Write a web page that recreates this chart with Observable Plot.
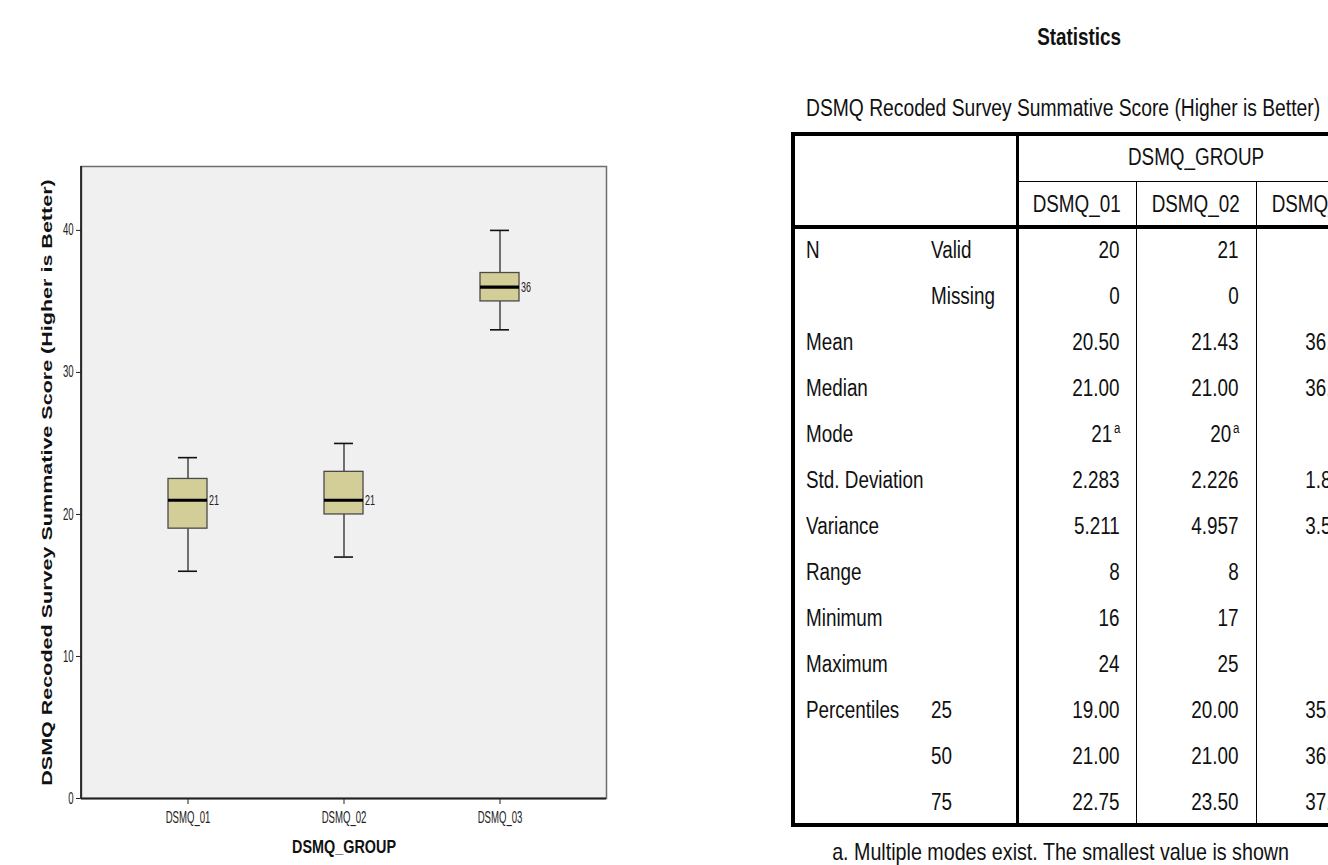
<!DOCTYPE html>
<html>
<head>
<meta charset="utf-8">
<script src="https://cdn.jsdelivr.net/npm/d3@7"></script>
<script src="https://cdn.jsdelivr.net/npm/@observablehq/plot@0.6"></script>
<style>
  html, body { margin: 0; padding: 0; background: #fff; }
  #page { position: relative; width: 1328px; height: 865px; overflow: hidden; background: #fff;
          font-family: "Liberation Sans", Arial, sans-serif; color: #111; }
  #chart svg { position: absolute; left: 0; top: 0; }
  .t { position: absolute; white-space: nowrap; font-size: 23px; height: 24px; line-height: 24px; }
  .t span { display: inline-block; transform: scaleX(0.82); }
  .ln { position: absolute; background: #000; }
  sup { font-size: 14px; vertical-align: 0; position: relative; top: -9px; margin-left: 2px; }
</style>
</head>
<body>
<div id="page">
  <div id="chart"></div>
  <div id="table"></div>
</div>
<script>
// ---------- Box plot data ----------
const groups = ["DSMQ_01", "DSMQ_02", "DSMQ_03"];
const whiskerLow = [16, 17, 33];
const lowerHinge = [19, 20, 35];
const medians = [21, 21, 36];
const upperHinge = [22.5, 23, 37];
const whiskerHigh = [24, 25, 40];
const yTickCount = 5;
const yAxisTitle = "DSMQ Recoded Survey Summative Score (Higher is Better)";
const xAxisTitle = "DSMQ_GROUP";

// ---------- Statistics table data ----------
const tableTitle = "Statistics";
const tableSubtitle = "DSMQ Recoded Survey Summative Score (Higher is Better)";
const headerGroup = "DSMQ_GROUP";
const statNames = ["N", "", "Mean", "Median", "Mode", "Std. Deviation", "Variance", "Range", "Minimum", "Maximum", "Percentiles", "", ""];
const statSub = ["Valid", "Missing", "", "", "", "", "", "", "", "", "25", "50", "75"];
const valuesDSMQ01 = ["20", "0", "20.50", "21.00", "21", "2.283", "5.211", "8", "16", "24", "19.00", "21.00", "22.75"];
const valuesDSMQ02 = ["21", "0", "21.43", "21.00", "20", "2.226", "4.957", "8", "17", "25", "20.00", "21.00", "23.50"];
const valuesDSMQ03 = ["19", "0", "36.05", "36.00", "36", "1.877", "3.524", "7", "33", "40", "35.00", "36.00", "37.00"];
const footnoteRows = [4];
const footnote = "a. Multiple modes exist. The smallest value is shown";

// ---------- Draw box plot ----------
const boxes = groups.map((g, i) => ({
  group: g, lo: whiskerLow[i], q1: lowerHinge[i], med: medians[i], q3: upperHinge[i], hi: whiskerHigh[i]
}));

const sans = "'Liberation Sans', Arial, sans-serif";

const chart = Plot.plot({
  width: 700,
  height: 865,
  marginLeft: 81,
  marginRight: 94,
  marginTop: 166,
  marginBottom: 67,
  style: { fontFamily: sans, fontSize: "12px", color: "#222", background: "transparent" },
  x: { type: "band", domain: groups, paddingInner: 0.748, paddingOuter: 0.546, label: null, tickSize: 6, tickPadding: 9 },
  y: { domain: [0, 44.5], ticks: yTickCount, label: null, tickSize: 5, tickPadding: 3 },
  marks: [
    Plot.frame({ fill: "#f0f0f0", stroke: "#6e6e6e", strokeWidth: 1.5 }),
    Plot.ruleX(boxes, { x: "group", y1: "lo", y2: "q1", stroke: "#2a2a2a", strokeWidth: 1.3 }),
    Plot.ruleX(boxes, { x: "group", y1: "q3", y2: "hi", stroke: "#2a2a2a", strokeWidth: 1.3 }),
    Plot.tickY(boxes, { x: "group", y: "lo", insetLeft: 10, insetRight: 10, stroke: "#111", strokeWidth: 1.6 }),
    Plot.tickY(boxes, { x: "group", y: "hi", insetLeft: 10, insetRight: 10, stroke: "#111", strokeWidth: 1.6 }),
    Plot.barY(boxes, { x: "group", y1: "q1", y2: "q3", fill: "#d3ce98", stroke: "#4a4a4a", strokeWidth: 1.3 }),
    Plot.tickY(boxes, { x: "group", y: "med", stroke: "#000", strokeWidth: 3.2 }),
    Plot.text(boxes, { x: "group", y: "med", text: d => String(d.med), dx: 21, textAnchor: "start", fontSize: 11.5, fill: "#222" }),
    Plot.ruleY([0], { stroke: "#222", strokeWidth: 1.8 }),
    Plot.text([yAxisTitle], { frameAnchor: "left", textAnchor: "middle", rotate: -90, dx: -34, fontFamily: sans, fontWeight: "bold", fontSize: 15.5, fill: "#111" }),
    Plot.text([xAxisTitle], { frameAnchor: "bottom", textAnchor: "middle", dy: 54, fontFamily: sans, fontWeight: "bold", fontSize: 16, fill: "#111" })
  ]
});
document.getElementById("chart").appendChild(chart);

// left axis line (dark)
d3.select(chart).append("line")
  .attr("x1", 81).attr("x2", 81).attr("y1", 166).attr("y2", 798)
  .attr("stroke", "#222").attr("stroke-width", 1.8);

// condensed, slightly tall lettering like the reference
function squeeze(t, sx, sy) {
  const b = t.getBBox();
  const anchor = getComputedStyle(t).textAnchor;
  const ax = anchor === "middle" ? b.x + b.width / 2 : anchor === "end" ? b.x + b.width : b.x;
  const ay = b.y + b.height / 2;
  const tr = t.getAttribute("transform") || "";
  t.setAttribute("transform", `${tr} translate(${ax},${ay}) scale(${sx},${sy}) translate(${-ax},${-ay})`);
}
d3.select(chart).selectAll("text").each(function () {
  const s = this.textContent;
  if (s === yAxisTitle) {
    const w = this.getBBox().width;
    squeeze(this, 607 / w, 1);
  } else if (s === xAxisTitle) {
    squeeze(this, 0.9, 1.13);
  } else if (this.closest("g") && this.closest("g").getAttribute("aria-label") === "text") {
    squeeze(this, 0.78, 1.3);
  } else {
    squeeze(this, 0.8, 1.3);
  }
});

// ---------- Draw statistics table ----------
const T = document.getElementById("table");
function line(x, y, w, h) {
  const d = document.createElement("div");
  d.className = "ln";
  Object.assign(d.style, { left: x + "px", top: y + "px", width: w + "px", height: h + "px" });
  T.appendChild(d);
}
function text(str, x, yc, align, opts = {}) {
  const d = document.createElement("div");
  d.className = "t";
  const sp = document.createElement("span");
  sp.innerHTML = str;
  d.appendChild(sp);
  d.style.top = (yc - 12) + "px";
  if (align === "left") { d.style.left = x + "px"; sp.style.transformOrigin = "left center"; }
  else if (align === "right") { d.style.right = (1328 - x) + "px"; sp.style.transformOrigin = "right center"; }
  else { d.style.left = (x - 400) + "px"; d.style.width = "800px"; d.style.textAlign = "center"; sp.style.transformOrigin = "center center"; }
  if (opts.bold) d.style.fontWeight = "bold";
  if (opts.size) d.style.fontSize = opts.size + "px";
  T.appendChild(d);
}

const tLeft = 792, tTop = 133, tBottom = 824, headSplit = 181, headBottom = 226;
const colX = [1017, 1136, 1256, 1376];
const colPad = [16, 17, 23];
const rowH = (tBottom - headBottom) / statNames.length;

// borders
line(tLeft - 1, tTop - 1, 1328 - tLeft + 20, 3.5);
line(tLeft - 1, tTop - 1, 3.5, tBottom - tTop + 3);
line(tLeft - 1, tBottom - 1, 1328 - tLeft + 20, 3.5);
line(colX[0] - 1, tTop - 1, 3, tBottom - tTop + 3);
line(colX[0], headSplit, 1328 - colX[0] + 20, 1.3);
line(tLeft - 1, headBottom - 1, 1328 - tLeft + 20, 3.5);
line(colX[1], headSplit, 1.3, tBottom - headSplit);
line(colX[2], headSplit, 1.3, tBottom - headSplit);

// titles
text(tableTitle, 1079, 37, "center", { bold: true, size: 23 });
text(tableSubtitle, 806, 108, "left", { size: 23.5 });
text(headerGroup, (colX[0] + colX[3]) / 2, 157, "center");
groups.forEach((g, i) => text(g, (colX[i] + colX[i + 1]) / 2, 204, "center"));

// body
const cols = [valuesDSMQ01, valuesDSMQ02, valuesDSMQ03];
statNames.forEach((name, r) => {
  const yc = headBottom + rowH * (r + 0.5) + 1;
  if (name) text(name, 806, yc, "left");
  if (statSub[r]) text(statSub[r], 931, yc, "left");
  cols.forEach((vals, c) => {
    const v = footnoteRows.includes(r) && c < 2 ? vals[r] + "<sup>a</sup>" : vals[r];
    text(v, colX[c + 1] - colPad[c], yc, "right");
  });
});
text(footnote, 1061, 852, "center", { size: 24 });
</script>
</body>
</html>
